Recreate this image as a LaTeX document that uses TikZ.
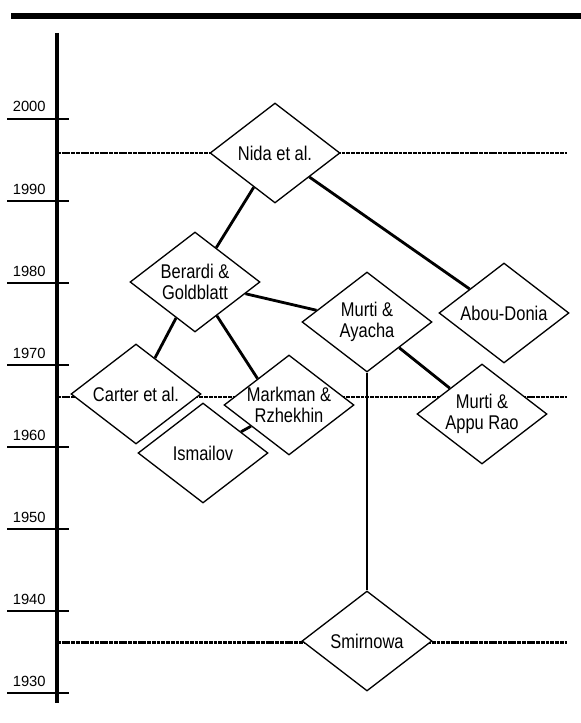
\documentclass[tikz,border=0pt]{standalone}
\usepackage{fontspec}
\setmainfont{Liberation Sans}
\newfontfamily\narrowsans[FakeStretch=0.83]{Liberation Sans}
\usetikzlibrary{shapes.geometric}

\begin{document}
\begin{tikzpicture}[x=0.02cm,y=-0.02cm,
  study/.style={diamond,draw,fill=white,line width=0.75pt,minimum width=2.6cm,minimum height=2cm,
    inner sep=-4pt,align=center,font=\narrowsans\fontsize{11.3}{12}\selectfont},
  link/.style={line width=1.6pt},
  era/.style={line width=1.7pt,dash pattern=on 2.2pt off 0.5pt},
  yearlab/.style={anchor=base east,inner sep=0pt,font=\fontsize{8.4}{10}\selectfont}]
  \useasboundingbox (0,0) rectangle (581,723);
  % frame and time axis
  \draw[line width=3.4pt] (11,16) -- (581,16);
  \draw[line width=2.6pt] (57,33) -- (57,703);
  \foreach \yr [count=\i from 0] in {2000,1990,...,1930} {
    \draw[line width=0.75pt] (7,119+82*\i) -- (69,119+82*\i);
    \node[yearlab] (y\yr) at (46,112+82*\i) {\yr};
  }
  \foreach \y in {153,397,642}
    \draw[era] (57,\y) -- (567,\y);
  % studies
  \node[study] (nida) at (275,153) {Nida et al.};
  \node[study] (berardi) at (195,282) {Berardi \&\\Goldblatt};
  \node[study] (ayacha) at (367,322) {Murti \&\\Ayacha};
  \node[study] (abou) at (504,313) {Abou-Donia};
  \node[study] (carter) at (136,394) {Carter et al.};
  \node[study] (markman) at (289,405) {Markman \&\\Rzhekhin};
  \node[study] (ismailov) at (203,453) {Ismailov};
  \node[study] (appurao) at (482,414) {Murti \&\\Appu Rao};
  \node[study] (smirnowa) at (367,641) {Smirnowa};
  \path[link]
    (nida) edge (berardi)
    (nida) edge (abou)
    (berardi) edge (ayacha)
    (berardi) edge (carter)
    (berardi) edge (markman.140)
    (ismailov) edge (markman)
    (ayacha) edge (appurao);
  \draw[line width=1.1pt] (ayacha) -- (smirnowa);
\end{tikzpicture}
\end{document}
